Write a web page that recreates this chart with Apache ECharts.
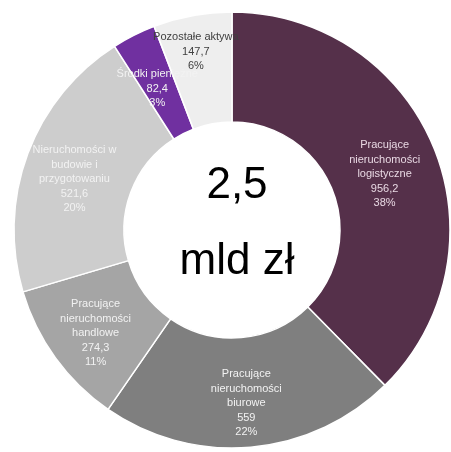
<!DOCTYPE html>
<html><head><meta charset="utf-8">
<script src="https://cdn.jsdelivr.net/npm/echarts@6/dist/echarts.min.js"></script>
<style>html,body{margin:0;padding:0;background:#fff}#c{width:451px;height:452px}</style>
</head><body><div id="c"></div>
<script>
var categories = [
  "Pracujące\nnieruchomości\nlogistyczne",
  "Pracujące\nnieruchomości\nbiurowe",
  "Pracujące\nnieruchomości\nhandlowe",
  "Nieruchomości w\nbudowie i\nprzygotowaniu",
  "Środki pieniężne",
  "Pozostałe aktywa"
];
var values = [956.2, 559, 274.3, 521.6, 82.4, 147.7];
var percentLabels = ["38%", "22%", "11%", "20%", "3%", "6%"];
var centerTitle = ["2,5", "mld zł"];

var colors = ["#55304A", "#7F7F7F", "#A5A5A5", "#CDCDCD", "#7030A0", "#EEEEEE"];
var labelColors = ["#E8D8E3", "#F2F2F2", "#F2F2F2", "#F2F2F2", "#F2F2F2", "#404040"];
var labelOffsets = [[-1, 7], [0, 8], [-2, 6], [-2, 7], [0, 7], [-6, -15]];

function pieSeries(withLabels, z) {
  return {
    type: 'pie',
    z: z,
    center: [232, 230],
    radius: [108, 218],
    startAngle: 90,
    clockwise: true,
    avoidLabelOverlap: false,
    silent: true,
    itemStyle: withLabels ? {color: 'rgba(0,0,0,0)', borderWidth: 0}
                          : {borderColor: '#FFFFFF', borderWidth: 1.5},
    label: {
      show: withLabels,
      position: 'inside',
      fontFamily: 'Liberation Sans',
      fontSize: 11,
      lineHeight: 14.5,
      align: 'center',
      overflow: 'none',
      formatter: function (p) {
        return p.name + '\n' + String(p.value).replace('.', ',') + '\n' + percentLabels[p.dataIndex];
      }
    },
    labelLine: {show: false},
    labelLayout: function (p) {
      var o = labelOffsets[p.dataIndex];
      return {dx: o[0], dy: o[1]};
    },
    emphasis: {disabled: true},
    data: values.map(function (v, i) {
      return {
        name: categories[i], value: v,
        itemStyle: withLabels ? {color: 'rgba(0,0,0,0)'} : {color: colors[i]},
        label: {color: labelColors[i]}
      };
    })
  };
}

var chart = echarts.init(document.getElementById('c'));
chart.setOption({
  animation: false,
  title: [
    {text: centerTitle[0], left: 232, top: 159, textAlign: 'center',
     textStyle: {fontFamily: 'Liberation Sans', fontSize: 44, fontWeight: 'normal', color: '#000'}},
    {text: centerTitle[1], left: 232, top: 235, textAlign: 'center',
     textStyle: {fontFamily: 'Liberation Sans', fontSize: 44, fontWeight: 'normal', color: '#000'}}
  ],
  series: [pieSeries(false, 2), pieSeries(true, 5)]
});
</script></body></html>
